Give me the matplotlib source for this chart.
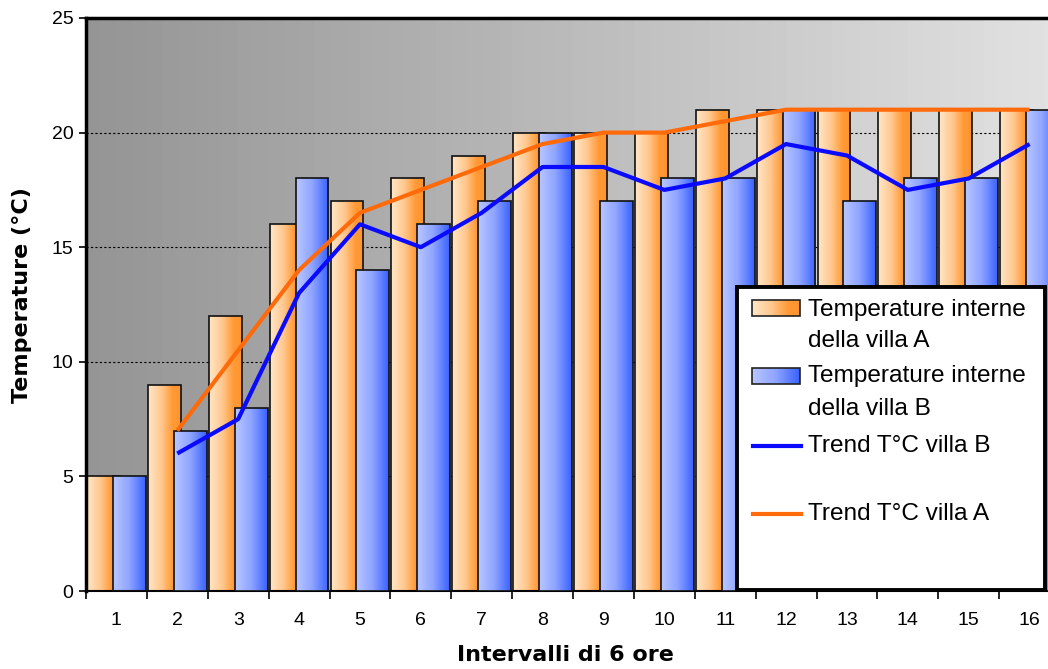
import numpy as np
import matplotlib.pyplot as plt
from matplotlib.colors import LinearSegmentedColormap

intervalli = list(range(1, 17))
villa_a = [5, 9, 12, 16, 17, 18, 19, 20, 20, 20, 21, 21, 21, 21, 21, 21]
villa_b = [5, 7, 8, 18, 14, 16, 17, 20, 17, 18, 18, 21, 17, 18, 18, 21]
trend_x = list(range(2, 17))
trend_a = [7, 10.5, 14, 16.5, 17.5, 18.5, 19.5, 20, 20, 20.5, 21, 21, 21, 21, 21]
trend_b = [6, 7.5, 13, 16, 15, 16.5, 18.5, 18.5, 17.5, 18, 19.5, 19, 17.5, 18, 19.5]

cmap_a = LinearSegmentedColormap.from_list(
    "a", [(0, "#ffe6c6"), (0.4, "#ffc890"), (0.75, "#ff9a36"), (1, "#ff9430")])
cmap_b = LinearSegmentedColormap.from_list(
    "b", [(0, "#b8c6ff"), (0.5, "#8ea4ff"), (1, "#3a62ff")])
cmap_bg = LinearSegmentedColormap.from_list("bg", ["#959595", "#e2e2e2"])
grad = np.linspace(0, 1, 64).reshape(1, -1)

W, H = 1048, 669
fig = plt.figure(figsize=(W / 100, H / 100), dpi=100)
plt.rcParams['font.family'] = 'Liberation Sans'

ax = fig.add_axes([86 / W, (H - 591) / H, (1060 - 86) / W, (591 - 18) / H])
ax.set_xlim(0.5, 16.5)
ax.set_ylim(0, 25)

# sfondo sfumato
ax.imshow(grad, extent=[0, 1, 0, 1], transform=ax.transAxes, cmap=cmap_bg,
          aspect='auto', zorder=0)
ax.set_yticks([0, 5, 10, 15, 20, 25])
ax.yaxis.grid(True, color='black', linestyle=(0, (2, 2)), linewidth=0.8, zorder=0.5)
ax.set_axisbelow(True)

x = np.array(intervalli)
w = 0.54
off = 0.213


def gradient_bars(xs, vals, cmap, z):
    bars = ax.bar(xs, vals, w, facecolor='none', edgecolor='#111111',
                  linewidth=1.2, zorder=z + 0.1)
    for b in bars:
        im = ax.imshow(grad, extent=[b.get_x(), b.get_x() + b.get_width(), 0, b.get_height()],
                       cmap=cmap, aspect='auto', zorder=z)
        im.set_clip_path(b)
    return bars


for i in range(len(x)):
    gradient_bars([x[i] - off], [villa_a[i]], cmap_a, 2 + i * 0.01)
    gradient_bars([x[i] + off], [villa_b[i]], cmap_b, 2.5 + i * 0.01)

ax.plot(trend_x, trend_b, color='#0a0aff', linewidth=3, zorder=5, solid_capstyle='butt')
ax.plot(trend_x, trend_a, color='#ff6a0a', linewidth=3, zorder=5.1, solid_capstyle='butt')
ax.set_xlim(0.5, 16.5)
ax.set_ylim(0, 25)

# tick
ax.set_xticks(np.arange(0.5, 17, 1))
ax.set_xticklabels([])
ax.set_xticks(x, minor=True)
ax.set_xticklabels([str(v) for v in intervalli], minor=True, fontsize=14)
ax.tick_params(axis='x', which='major', direction='out', length=6, width=1.2)
ax.tick_params(axis='x', which='minor', length=0, pad=15)
ax.tick_params(axis='y', direction='out', length=5, width=1.2, labelsize=14, pad=4)

ax.spines['top'].set_linewidth(2.5)
ax.spines['left'].set_linewidth(2.5)
ax.spines['bottom'].set_linewidth(1.5)
ax.spines['right'].set_visible(False)

fig.text(22 / W, 1 - 295 / H, "Temperature (°C)", rotation=90, ha='center', va='center',
         fontsize=16, fontweight='bold', family='DejaVu Sans')
fig.text(565 / W, 1 - 655 / H, "Intervalli di 6 ore", ha='center', va='center',
         fontsize=16, fontweight='bold', family='DejaVu Sans')

# legenda
lx0, lx1, ly0, ly1 = 737, 1045, 287, 590
lg = fig.add_axes([lx0 / W, (H - ly1) / H, (lx1 - lx0) / W, (ly1 - ly0) / H])
lg.set_xlim(lx0, lx1)
lg.set_ylim(ly1, ly0)
lg.set_facecolor('white')
lg.set_xticks([])
lg.set_yticks([])
for s in lg.spines.values():
    s.set_linewidth(2.8)
lg.set_zorder(10)

lg.imshow(grad, extent=[752, 800, 316, 300], cmap=cmap_a, aspect='auto')
lg.add_patch(plt.Rectangle((752, 300), 48, 16, fill=False, edgecolor='#222222', linewidth=1.2))
lg.imshow(grad, extent=[752, 800, 384, 368], cmap=cmap_b, aspect='auto')
lg.add_patch(plt.Rectangle((752, 368), 48, 16, fill=False, edgecolor='#222222', linewidth=1.2))
lg.plot([753, 801], [446, 446], color='#0a0aff', linewidth=3)
lg.plot([753, 801], [514, 514], color='#ff6a0a', linewidth=3)
lg.set_xlim(lx0, lx1)
lg.set_ylim(ly1, ly0)

voci = [("Temperature interne", 316), ("della villa A", 347),
        ("Temperature interne", 382), ("della villa B", 415),
        ("Trend T°C villa B", 452), ("Trend T°C villa A", 520)]
for testo, yb in voci:
    lg.text(808, yb, testo, fontsize=17.6, va='baseline', ha='left')

fig.savefig("out.png", dpi=100)
